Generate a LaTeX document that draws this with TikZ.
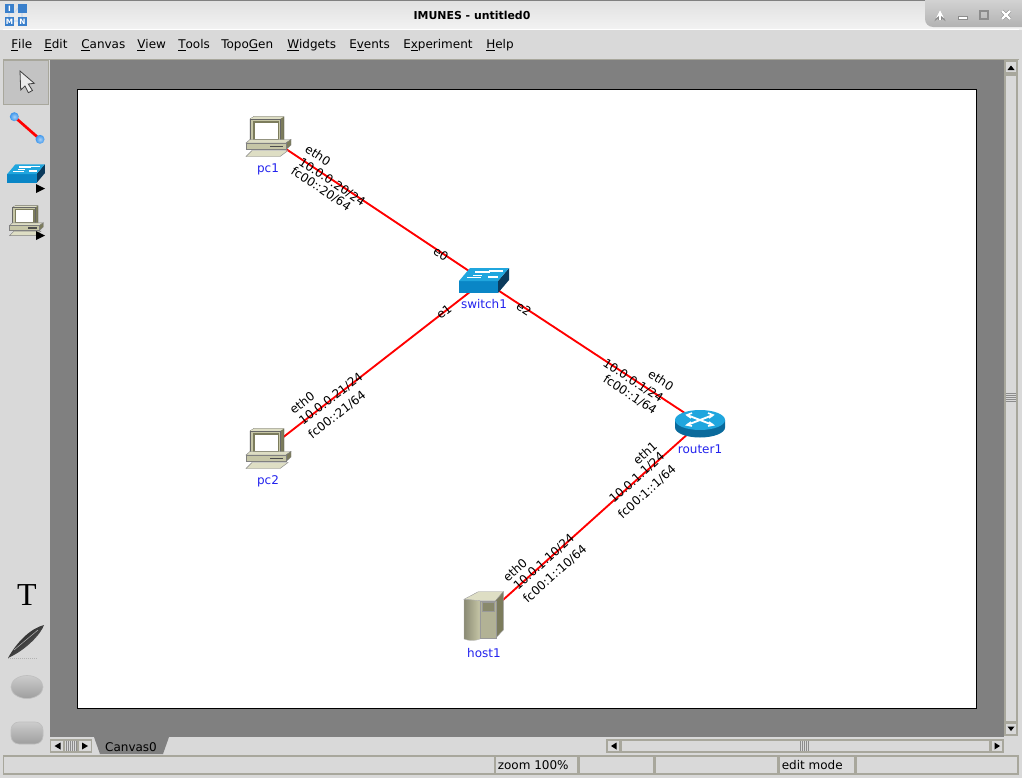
\documentclass[tikz,border=0pt]{standalone}
\usepackage{fontspec}
\setmainfont{DejaVu Sans}
\newfontfamily\serifT{Liberation Serif}
\usetikzlibrary{positioning}

\definecolor{panel}{HTML}{D9D9D9}
\definecolor{canvasgrey}{HTML}{808080}
\definecolor{edgeline}{HTML}{A8A79C}
\definecolor{olive}{HTML}{C6C6A6}
\definecolor{olivelight}{HTML}{DEDEC4}
\definecolor{olivedark}{HTML}{7C7C5C}
\definecolor{netblue}{HTML}{0A86C6}
\definecolor{nettop}{HTML}{20A6DE}
\definecolor{netdark}{HTML}{0B3A5C}
\definecolor{netside}{HTML}{0A6A9C}
\definecolor{labelblue}{HTML}{2222EE}
\definecolor{appblue}{HTML}{3A80CC}
\definecolor{ballblue}{HTML}{3C96EC}

\tikzset{
    device/.style={inner sep=0pt, minimum size=0pt},
    devlabel/.style={inner sep=0pt, text=labelblue, font=\fontsize{9}{9}\selectfont, text height=7pt, text depth=2pt},
    iface/.style={inner sep=0pt, font=\fontsize{9}{9}\selectfont},
    link/.style={draw=red, line width=1.4pt},
    menuitem/.style={inner sep=0pt, anchor=base west, font=\fontsize{9}{9}\selectfont},
    statuscell/.style={draw=edgeline, fill=panel, line width=.8pt},
    sbutton/.style={draw=edgeline, fill=panel, line width=.8pt},
    winbtn/.style={draw=white, line width=1.6pt},
    appsquare/.style={fill=appblue, draw=none},
    toolball/.style={inner color=ballblue!45!white, outer color=ballblue},
    pcicon/.pic={
        \fill[olivedark, draw=black!70, line width=.3pt] (-14,-20.5) -- (16,-20.5) -- (16,4) -- (12,6) -- (-18,6) -- (-18,-18) -- cycle;
        \fill[olivelight] (-18,-18) -- (-14,-20.5) -- (16,-20.5) -- (12,-18) -- cycle;
        \fill[olive, draw=black!60, line width=.3pt] (-18,-18) rectangle (12,5);
        \fill[white, draw=olivedark, line width=1pt] (-14,-15) rectangle (10.5,2.5);
        \fill[olivelight, draw=black!50, line width=.3pt] (-22,6) -- (-18,2.5) -- (23,2.5) -- (18,6) -- cycle;
        \fill[olivedark, draw=black!50, line width=.3pt] (18,6) -- (23,2.5) -- (23,8) -- (18,12.5) -- cycle;
        \fill[olive, draw=black!50, line width=.3pt] (-22,6) rectangle (18,12.5);
        \fill[black!70] (2,8.5) rectangle (15,10);
        \fill[olivelight, draw=black!50, line width=.3pt] (-16,13.5) -- (20,13.5) -- (12,19.5) -- (-22,19.5) -- cycle;
    },
    switchicon/.pic={
        \fill[netdark] (14,0) -- (25,-13) -- (25,-1) -- (14,12) -- cycle;
        \fill[netblue] (-25,0) rectangle (14,12);
        \fill[nettop] (-25,0) -- (-14,-13) -- (25,-13) -- (14,0) -- cycle;
        \draw[white, line width=1.2pt] (-9,-9) -- (6,-9) (-17,-3.5) -- (-3,-3.5) (4,-4) -- (14,-4) (5,-10) -- (19,-10);
        \draw[white, line width=.7pt] (-11,-6) -- (-2,-6);
    },
    routericon/.pic={
        \fill[netside] (-25,-3) -- (-25,4.5) arc[start angle=180, end angle=0, x radius=25, y radius=10] -- (25,-3) -- cycle;
        \fill[nettop] (0,-3) ellipse[x radius=25, y radius=10];
        \draw[white, line width=1.4pt] (-13,-8) -- (13,2) (-13,2) -- (13,-8);
        \draw[white, line width=1.2pt] (-8,-10) -- (-13,-8) -- (-9,-5) (8,-10) -- (13,-8) -- (9,-5) (-9,-1) -- (-13,2) -- (-8,3) (9,-1) -- (13,2) -- (8,3);
    },
    hosticon/.pic={
        \fill[olivelight, draw=black!40, line width=.3pt] (-20,-17.7) -- (-5.7,-25.3) -- (19.3,-25.3) -- (11.7,-16.3) -- (-4,-16.3) -- cycle;
        \fill[olivedark, draw=black!40, line width=.3pt] (11.7,-16.3) -- (19.3,-25.3) -- (19.3,13) -- (11.7,21) -- cycle;
        \shade[left color=olive!70!black, right color=olive, draw=black!30, line width=.2pt] (-20,-17.7) -- (-20,22) .. controls (-15,24) and (-9,24) .. (-4,22) -- (-4,-16.3) -- cycle;
        \fill[olive!90!black, draw=black!40, line width=.3pt] (-4,-16.3) rectangle (11.7,21);
        \fill[olivedark!90!white, draw=black!40, line width=.3pt] (-1.7,-15.3) rectangle (10,-6);
    },
}

\begin{document}
\begin{tikzpicture}[x=0.75pt, y=-0.75pt]
    \useasboundingbox (0,0) rectangle (1022,778);
    \fill[panel] (0,0) rectangle (1022,778);

    % Title bar
    \shade[top color=white!88!black, bottom color=white!95!black] (0,0) rectangle (1022,29);
    \fill[canvasgrey] (0,0) rectangle (1022,1);
    \fill[white] (3,29) rectangle (1019,30);
    \node[inner sep=0pt, font=\fontsize{8.2}{8.2}\selectfont\bfseries] (title) at (472,15) {IMUNES - untitled0};
    \shade[top color=black!14, bottom color=black!30, rounded corners=6pt] (925,-8) rectangle (1030,27);

    % Window buttons
    \draw[draw=black!45, line width=2.6pt, ->, >=stealth] (940,20) -- (940,10);
    \draw[winbtn, ->, >=stealth] (940,20) -- (940,10);
    \draw[draw=black!45, line width=.5pt, fill=white] (958,16) rectangle (967,19.5);
    \draw[draw=black!45, line width=1.8pt] (980,11) rectangle (988,19);
    \draw[draw=black!45, line width=2.6pt] (1002,11) -- (1010,19) (1010,11) -- (1002,19);
    \draw[winbtn] (1002,11) -- (1010,19) (1010,11) -- (1002,19);

    % App icon
    \draw[white!70!appblue, line width=.8pt] (9,13) -- (9,17) (14,21) -- (18,21) (22,13) -- (22,17) (14,13) -- (18,8);
    \foreach \x/\y in {5/4, 18/4, 5/17, 18/17}
        \fill[appsquare] (\x,\y) rectangle ++(9,9);
    \foreach \x/\y/\t in {9.5/8.5/I, 9.5/21.5/M, 22.5/21.5/N}
        \node[inner sep=0pt, text=white, font=\fontsize{5.5}{5.5}\selectfont\bfseries] at (\x,\y) {\t};

    % Menu
    \foreach \x/\t in {11/\underline{F}ile, 44/\underline{E}dit, 81/\underline{C}anvas, 137/\underline{V}iew,
        178/\underline{T}ools, 221/Topo\underline{G}en, 287/\underline{W}idgets, 349/E\underline{v}ents,
        403/E\underline{x}periment, 486/\underline{H}elp}
        \node[menuitem] at (\x,48) {\t};
    \fill[edgeline] (3,58.5) rectangle (1019,59.5);

    % Canvas area
    \fill[canvasgrey] (50,60) rectangle (1004,737);
    \draw[black, fill=white, line width=.75pt] (77,89) rectangle (976,708);

    % Tool bar
    \draw[edgeline, fill=panel!90!black, line width=.8pt] (3.5,60.5) rectangle (48.5,104.5);
    \draw[black!75, fill=white!92!black, line width=.6pt] (20,71) -- (20.7,90) -- (25,86) -- (28.3,92.7) -- (32.5,90.5) -- (28.3,84) -- (34.3,83.3) -- cycle;
    \draw[red, line width=2pt] (14.3,116.7) -- (40,139.3);
    \shade[toolball] (14.3,116.7) circle[radius=4.5];
    \shade[toolball] (40,139.3) circle[radius=4.5];
    \pic[scale=.75] at (26,174) {switchicon};
    \fill[black] (36,184) -- (45,188.5) -- (36,193) -- cycle;
    \pic[scale=.75] at (26,221) {pcicon};
    \fill[black] (36,231) -- (45,235.5) -- (36,240) -- cycle;
    \node[inner sep=0pt, font=\serifT\fontsize{24}{24}\selectfont] (texttool) at (27,595) {T};
    \shade[left color=black!90, right color=black!60, shading angle=42] (8,658) .. controls (18,640) and (32,628) .. (44,625) .. controls (41,634) and (26,650) .. cycle;
    \draw[black!30, line width=.4pt] (14,650) -- (38,630);
    \draw[black!30, line width=.5pt, densely dotted] (8,658) -- (38,658);
    \shade[top color=black!20, bottom color=black!38, draw=white!75!black, line width=.5pt] (27,687) ellipse[x radius=16, y radius=11.5];
    \shade[top color=black!20, bottom color=black!38, draw=white!75!black, line width=.5pt, rounded corners=6pt] (11,722) rectangle (43,744);

    % Vertical scroll bar
    \draw[sbutton] (1005,61) rectangle (1017,73);
    \fill[black] (1007.5,70) -- (1014.5,70) -- (1011,65.5) -- cycle;
    \draw[sbutton] (1005,75) rectangle (1017,722);
    \draw[sbutton] (1005,723) rectangle (1017,735);
    \fill[black] (1007.5,726.5) -- (1014.5,726.5) -- (1011,731) -- cycle;
    \foreach \y in {393,395,...,401}
        \draw[black!45, line width=.5pt] (1006,\y) -- (1016,\y);

    % Horizontal scroll bar
    \draw[sbutton] (607,740) rectangle (620,752);
    \fill[black] (616.5,742.5) -- (616.5,749.5) -- (611,746) -- cycle;
    \draw[sbutton] (621,740) rectangle (990,752);
    \draw[sbutton] (991,740) rectangle (1003,752);
    \fill[black] (994.5,742.5) -- (994.5,749.5) -- (1000,746) -- cycle;
    \foreach \x in {800,802,...,808}
        \draw[black!45, line width=.5pt] (\x,741) -- (\x,751);

    % Canvas tabs
    \draw[sbutton] (50.5,740) rectangle (63.5,752);
    \fill[black] (60.5,742.5) -- (60.5,749.5) -- (54.5,746) -- cycle;
    \draw[sbutton] (64,740) rectangle (78,752);
    \foreach \x in {66,68,...,76}
        \draw[black!45, line width=.5pt] (\x,741) -- (\x,751);
    \draw[sbutton] (78.5,740) rectangle (91.5,752);
    \fill[black] (82,742.5) -- (82,749.5) -- (88,746) -- cycle;
    \fill[canvasgrey] (94,737) -- (100,754) -- (163,754) -- (169,737) -- cycle;
    \node[inner sep=0pt, font=\fontsize{9}{9}\selectfont] (canvastab) at (131,747) {Canvas0};

    % Status bar
    \foreach \a/\b in {3.5/494.5, 495.5/577.5, 579/654, 655.5/778, 779.5/854.5, 856/1018}
        \draw[statuscell] (\a,756) rectangle (\b,774);
    \node[menuitem] (zoomlabel) at (497.5,769) {zoom 100\%};
    \node[menuitem] (modelabel) at (781.5,769) {edit mode};

    % Devices
    \node[device] (pc1) at (268,137) {};
    \node[device] (pc2) at (268,449) {};
    \node[device] (switch1) at (484,281) {};
    \node[device] (router1) at (700,423) {};
    \node[device] (host1) at (484,617) {};

    % Links
    \draw[link] (pc1) -- (switch1);
    \draw[link] (pc2) -- (switch1);
    \draw[link] (switch1) -- (router1);
    \draw[link] (host1) -- (router1);

    \pic at (pc1) {pcicon};
    \pic at (pc2) {pcicon};
    \pic at (switch1) {switchicon};
    \pic at (router1) {routericon};
    \pic at (host1) {hosticon};

    \node[devlabel, below=19.3pt of pc1] (pc1label) {pc1};
    \node[devlabel, below=19.3pt of pc2] (pc2label) {pc2};
    \node[devlabel, below=13.3pt of switch1] (switch1label) {switch1};
    \node[devlabel, below=15.5pt of router1] (router1label) {router1};
    \node[devlabel, below=23pt of host1] (host1label) {host1};

    % Interface labels
    \node[iface, rotate=-33.7] at (318,155) {eth0};
    \node[iface, rotate=-33.7] at (332,182) {10.0.0.20/24};
    \node[iface, rotate=-33.7] at (321,189) {fc00::20/64};
    \node[iface, rotate=-33.7] at (441,254) {e0};

    \node[iface, rotate=37.9] at (444,312) {e1};
    \node[iface, rotate=37.9] at (302,403) {eth0};
    \node[iface, rotate=37.9] at (331,399) {10.0.0.21/24};
    \node[iface, rotate=37.9] at (337,415) {fc00::21/64};

    \node[iface, rotate=-33.3] at (524,309) {e2};
    \node[iface, rotate=-33.3] at (661,380) {eth0};
    \node[iface, rotate=-33.3] at (633,381) {10.0.0.1/24};
    \node[iface, rotate=-33.3] at (630,395) {fc00::1/64};

    \node[iface, rotate=41.9] at (645,453) {eth1};
    \node[iface, rotate=41.9] at (637,478) {10.0.1.1/24};
    \node[iface, rotate=41.9] at (647,492) {fc00:1::1/64};
    \node[iface, rotate=41.9] at (515,570) {eth0};
    \node[iface, rotate=41.9] at (544,562) {10.0.1.10/24};
    \node[iface, rotate=41.9] at (555,574) {fc00:1::10/64};
\end{tikzpicture}
\end{document}
